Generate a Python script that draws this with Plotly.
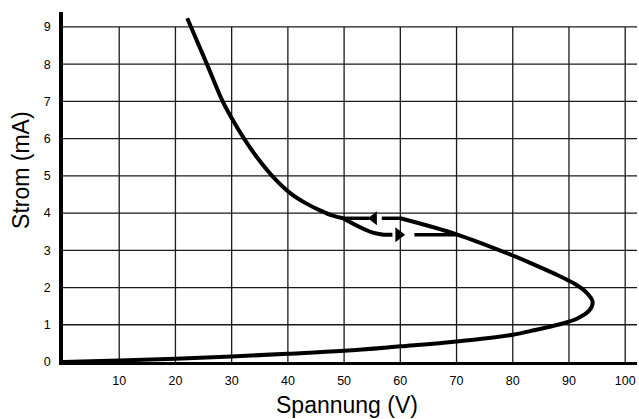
import plotly.graph_objects as go

# ---- data ----
x_ticks = [10, 20, 30, 40, 50, 60, 70, 80, 90, 100]
y_ticks = [0, 1, 2, 3, 4, 5, 6, 7, 8, 9]

# upper-left branch: from the top down to the split point
v_top = [22.1, 25.6, 28.4, 30.2, 32.2, 34.5, 37.2, 40.3, 43.0, 45.6, 48.0, 49.8]
i_top = [9.23, 8.0, 7.0, 6.5, 6.0, 5.5, 5.0, 4.55, 4.28, 4.08, 3.93, 3.86]

# lower solid part of the hysteresis loop
v_low = [49.8, 53.1, 55.3, 57.1, 58.6]
i_low = [3.86, 3.6, 3.47, 3.42, 3.42]

# dashed return path (upper) and dashed forward path (lower)
v_dash_up_a = [49.8, 54.5]
i_dash_up_a = [3.86, 3.86]
v_dash_up_b = [56.7, 60.0]
i_dash_up_b = [3.86, 3.86]
v_dash_low = [62.5, 70.0]
i_dash_low = [3.42, 3.42]

# arrow heads
v_arrow_left = [55.3]
i_arrow_left = [3.86]
v_arrow_right = [59.7]
i_arrow_right = [3.42]

# main curve from the loop down to the origin
v_main = [60.0, 70.0, 80.0, 84.0, 88.0, 91.0, 93.0, 94.2, 93.6, 91.5, 88.0, 84.0, 80.0, 70.0, 60.0, 50.0, 40.0, 30.0, 20.0, 10.0, 0.0]
i_main = [3.86, 3.43, 2.86, 2.6, 2.33, 2.1, 1.88, 1.62, 1.38, 1.17, 1.0, 0.86, 0.73, 0.55, 0.42, 0.3, 0.22, 0.15, 0.09, 0.04, 0.0]

X_MAX = 102.1
Y_MAX = 9.4
GRID_TOP = 9
FONT = "Liberation Sans, Arial, Helvetica, sans-serif"

fig = go.Figure()

line_solid = dict(color="black", width=4, shape="spline", smoothing=1.0)

fig.add_trace(go.Scatter(x=v_top, y=i_top, mode="lines", line=line_solid, hoverinfo="skip"))
fig.add_trace(go.Scatter(x=v_low, y=i_low, mode="lines", line=line_solid, hoverinfo="skip"))
fig.add_trace(go.Scatter(x=v_main, y=i_main, mode="lines", line=line_solid, hoverinfo="skip"))
for xs, ys in [(v_dash_up_a, i_dash_up_a), (v_dash_up_b, i_dash_up_b), (v_dash_low, i_dash_low)]:
    fig.add_trace(go.Scatter(x=xs, y=ys, mode="lines", line=dict(color="black", width=3.5), hoverinfo="skip"))
fig.add_trace(go.Scatter(x=v_arrow_left, y=i_arrow_left, mode="markers",
                         marker=dict(symbol="triangle-left", size=12, color="black"), hoverinfo="skip"))
fig.add_trace(go.Scatter(x=v_arrow_right, y=i_arrow_right, mode="markers",
                         marker=dict(symbol="triangle-right", size=13, color="black"), hoverinfo="skip"))

shapes = []
for xv in x_ticks:
    shapes.append(dict(type="line", xref="x", yref="y", x0=xv, x1=xv, y0=0, y1=GRID_TOP,
                       line=dict(color="#1a1a1a", width=1.3), layer="below"))
for yv in y_ticks[1:]:
    shapes.append(dict(type="line", xref="x", yref="y", x0=0, x1=X_MAX, y0=yv, y1=yv,
                       line=dict(color="#1a1a1a", width=1.3), layer="below"))

fig.update_layout(
    width=639, height=419,
    margin=dict(l=63, r=2, t=12, b=57),
    plot_bgcolor="white", paper_bgcolor="white",
    showlegend=False,
    shapes=shapes,
    font=dict(family=FONT, color="black"),
    xaxis=dict(range=[0, X_MAX], tickvals=x_ticks, ticktext=[str(v) for v in x_ticks],
               showgrid=False, zeroline=False, showline=True, linecolor="black", linewidth=3,
               ticks="outside", ticklen=5, tickcolor="rgba(0,0,0,0)",
               tickfont=dict(size=12.5, family=FONT, color="black")),
    yaxis=dict(range=[0, Y_MAX], tickvals=y_ticks, ticktext=[str(v) for v in y_ticks],
               showgrid=False, zeroline=False, showline=True, linecolor="black", linewidth=3.5,
               ticks="outside", ticklen=6, tickcolor="rgba(0,0,0,0)",
               tickfont=dict(size=12.5, family=FONT, color="black")),
    annotations=[
        dict(text="Spannung (V)", xref="paper", yref="paper", x=0.494, y=-0.122,
             xanchor="center", yanchor="middle", showarrow=False,
             font=dict(size=23, family=FONT, color="black")),
        dict(text="Strom (mA)", xref="paper", yref="paper", x=-0.073, y=0.549,
             xanchor="center", yanchor="middle", textangle=-90, showarrow=False,
             font=dict(size=23, family=FONT, color="black")),
    ],
)

fig.write_html("out.html", config={"displayModeBar": False},
               post_script="document.body.style.margin='0';document.body.style.padding='0';document.body.style.overflow='hidden';")
